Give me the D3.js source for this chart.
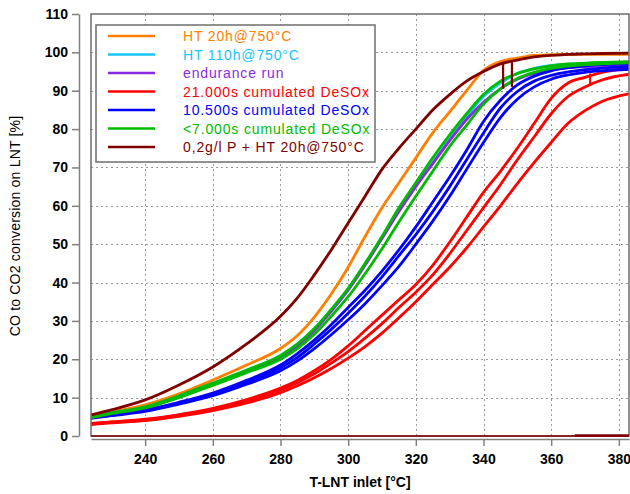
<!DOCTYPE html>
<html><head><meta charset="utf-8">
<script src="https://cdn.jsdelivr.net/npm/d3@7"></script>
<style>body{margin:0;background:#fff} text{font-family:"Liberation Sans",Arial,sans-serif}</style>
</head><body><svg id="c" width="630" height="494"></svg>
<script>
// temperature grid [°C]
const T = [224,230,240,250,260,270,280,285,290,295,300,305,310,315,320,325,330,335,340,345,350,355,360,365,370,375,383];
// conversion [%] per run
const ht20     = [5,6.2,8.1,11,14.6,18.5,22.8,26.2,31,37,44,52,59.5,66,72.5,79,84.5,90,95.3,97.6,98.5,99.2,99.4,99.5,99.5,99.5,99.5];
const ht110    = [5,6,7.5,10.3,13.6,17,20.8,23.8,27.8,32.8,38.3,44.8,51.8,58.8,65.3,71.3,77.3,83.3,88.5,92,94.5,95.8,96.6,96.9,97,97.1,97.2];
const endurance= [4.9,5.9,7.4,10.2,13.5,16.8,20.5,23.5,27.5,32.5,38,44.5,51.5,58.5,65,71,77,82.5,87,90.5,93,94.5,95.5,96,96.3,96.5,96.8];
const desox21a = [3.3,3.7,4.4,5.6,7.2,9.5,12.5,14.5,17,20,23.5,27.5,31.5,35.5,39.5,44.5,50.5,57,63.5,69,75,81.5,88,92,93.5,94.8,95.8];
const desox21b = [3.2,3.6,4.2,5.4,6.9,9.1,12,13.9,16.2,19,22,25.5,29.3,33.5,37.5,42,47.5,53.5,59.5,65.5,72,78,84,88.5,91,92.8,94.3];
const desox21c = [3,3.4,4,5.1,6.6,8.6,11.3,13.1,15.2,17.6,20.3,23.3,26.8,30.8,35,39.5,44,49,54.5,60,65.8,71.3,76.5,81.5,84.8,87.2,89.2];
const desox10a = [4.8,5.6,6.8,8.8,11.2,14.5,18.5,21.5,25,29,33.5,38,43,48.5,54.5,61,67.5,74.5,82,87.5,91.5,93.8,95.2,96,96.5,96.8,97];
const desox10b = [4.7,5.4,6.6,8.5,10.8,14,17.8,20.5,24,27.8,32,36.5,41.5,47,52.5,58.5,65,72,79,85.5,89.8,92.5,94,94.9,95.5,95.9,96.3];
const desox10c = [4.6,5.3,6.4,8.3,10.5,13.5,17,19.6,22.8,26.4,30.3,34.5,39.2,44.2,50,56,62.5,69.5,76.5,83,87.8,91,93,94.1,94.8,95.2,95.6];
const desox7a  = [5,6,7.6,10.5,13.8,17.2,21,24,28,33,38.5,45,52,59.5,66,72.5,78.5,84,89,92.5,94.5,95.7,96.5,97,97.2,97.4,97.6];
const desox7b  = [4.8,5.8,7.3,10,13.2,16.5,20,22.8,26.5,31.2,36.3,42.3,48.8,55.8,62.5,69,75.5,81,86.5,90.5,93.2,94.8,95.8,96.4,96.8,97,97.3];
const phos     = [5.5,6.8,9.4,13.3,18,24,31.2,36,42,48.5,55.5,62.5,69.5,75,80,85,89,92.5,95,97,98,98.8,99.2,99.5,99.6,99.7,99.8];
// spikes: [T, from, to]
const phosSpikes = [[345.8,97.3,90.5],[348.4,97.8,91]];
const desox21Spikes = [[371.5,91.3,94.5]];
// brown trace lying on 0 %
const phosZeroFull = [224,383];
const phosZeroSeg = [367,383];

const seriesNames = ["HT 20h@750°C","HT 110h@750°C","endurance run","21.000s cumulated DeSOx","10.500s cumulated DeSOx","<7.000s cumulated DeSOx","0,2g/l P + HT 20h@750°C"];
const seriesColors = ["#ff8000","#18c4f8","#8a2be2","#ff0000","#0000ff","#00bb00","#800000"];
const seriesRuns = [[ht20],[ht110],[endurance],[desox21a,desox21b,desox21c],[desox10a,desox10b,desox10c],[desox7a,desox7b],[phos]];

const xTicks = [240,260,280,300,320,340,360,380];
const yTicks = [0,10,20,30,40,50,60,70,80,90,100,110];

const svg = d3.select("#c");
const L=91,R=629,TOP=14,BOT=436;
const x = d3.scaleLinear().domain([224,383]).range([L,R]);
const y = d3.scaleLinear().domain([0,110]).range([BOT,TOP]);

// grid
const grid = svg.append("g").attr("stroke","#9a9a9a").attr("stroke-width",1).attr("stroke-dasharray","2,3");
grid.selectAll(".gx").data(xTicks).join("line").attr("x1",d=>Math.round(x(d))+0.5).attr("x2",d=>Math.round(x(d))+0.5).attr("y1",TOP).attr("y2",BOT);
grid.selectAll(".gy").data(yTicks.filter(v=>v>0&&v<110)).join("line").attr("y1",d=>Math.round(y(d))+0.5).attr("y2",d=>Math.round(y(d))+0.5).attr("x1",L).attr("x2",R);

// clip
svg.append("clipPath").attr("id","cp").append("rect").attr("x",L).attr("y",TOP).attr("width",R-L).attr("height",BOT-TOP);
const plot = svg.append("g").attr("clip-path","url(#cp)");
const line = d3.line().x(d=>x(d[0])).y(d=>y(d[1])).curve(d3.curveMonotoneX);

seriesRuns.forEach((runs,i)=>{
  runs.forEach(r=>{
    plot.append("path").datum(T.map((t,k)=>[t,r[k]])).attr("d",line)
      .attr("fill","none").attr("stroke",seriesColors[i]).attr("stroke-width",2.8).attr("stroke-linejoin","round");
  });
  if(i===3) desox21Spikes.forEach(s=>plot.append("line").attr("x1",x(s[0])).attr("x2",x(s[0])).attr("y1",y(s[1])).attr("y2",y(s[2])).attr("stroke",seriesColors[i]).attr("stroke-width",2));
  if(i===6){
    phosSpikes.forEach(s=>plot.append("line").attr("x1",x(s[0])).attr("x2",x(s[0])).attr("y1",y(s[1])).attr("y2",y(s[2])).attr("stroke",seriesColors[i]).attr("stroke-width",2.2));
  }
});

// frame
svg.append("rect").attr("x",L).attr("y",TOP).attr("width",R-L).attr("height",BOT-TOP).attr("fill","none").attr("stroke","#6e6e6e").attr("stroke-width",1.5);
// zero trace on top of the frame bottom
svg.append("line").attr("x1",x(phosZeroFull[0])).attr("x2",x(phosZeroFull[1])).attr("y1",y(0)).attr("y2",y(0)).attr("stroke","#800000").attr("stroke-width",1.5);
svg.append("line").attr("x1",x(phosZeroSeg[0])).attr("x2",x(phosZeroSeg[1])).attr("y1",y(0)-0.5).attr("y2",y(0)-0.5).attr("stroke","#800000").attr("stroke-width",2.5);

// axes
const yAxis = svg.append("g").attr("transform","translate(79,0)")
  .call(d3.axisLeft(y).tickValues(yTicks).tickSize(7).tickSizeOuter(0).tickPadding(4));
const xAxis = svg.append("g").attr("transform","translate(0,439)")
  .call(d3.axisBottom(x).tickValues(xTicks).tickSize(7).tickSizeOuter(0).tickPadding(8));
[yAxis,xAxis].forEach(a=>{
  a.select(".domain").attr("stroke","#808080").attr("stroke-width",1.5);
  a.selectAll(".tick line").attr("stroke","#808080").attr("stroke-width",1.5);
  a.selectAll("text").attr("fill","#000").attr("font-size",14).attr("font-weight","bold").attr("font-family","'Liberation Sans',Arial,sans-serif");
});

svg.append("text").attr("x",(L+R)/2).attr("y",487).attr("text-anchor","middle").attr("font-size",14).attr("font-weight","bold").text("T-LNT inlet [°C]");
svg.append("text").attr("transform","translate(20,226) rotate(-90)").attr("text-anchor","middle").attr("font-size",14).attr("letter-spacing",0.2).text("CO to CO2 conversion on LNT [%]");

// legend
const lg = svg.append("g");
lg.append("rect").attr("x",96).attr("y",25).attr("width",279).attr("height",137).attr("fill","#fff").attr("stroke","#6e6e6e").attr("stroke-width",1.5);
seriesNames.forEach((n,i)=>{
  const yy = 36 + i*18.5;
  lg.append("line").attr("x1",108).attr("x2",155).attr("y1",yy).attr("y2",yy).attr("stroke",seriesColors[i]).attr("stroke-width",2.6);
  lg.append("text").attr("x",183).attr("y",yy).attr("dy","0.36em").attr("font-size",14).attr("letter-spacing",0.85).attr("fill",seriesColors[i]).text(n);
});
</script></body></html>
